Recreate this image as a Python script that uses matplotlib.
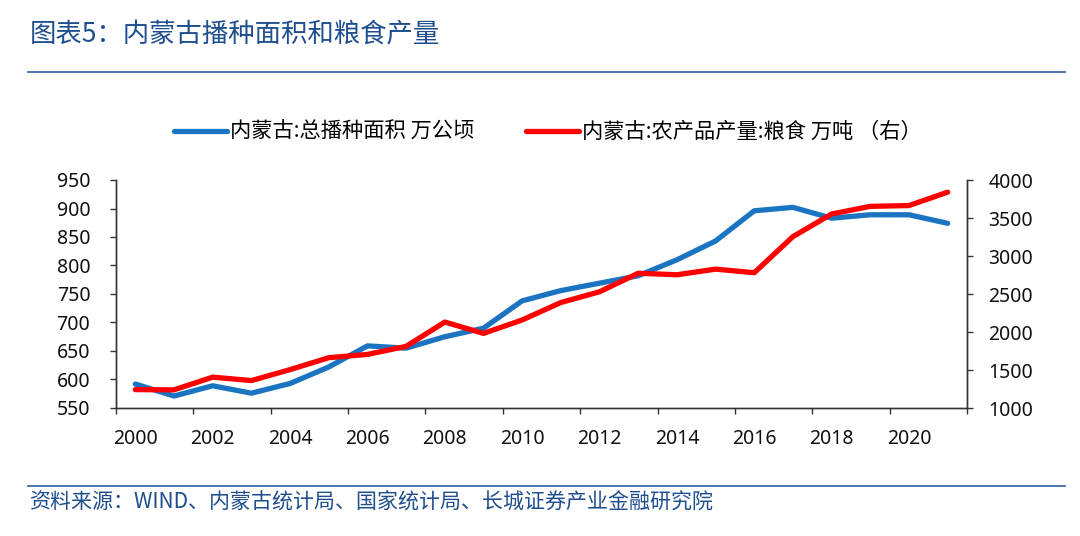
import matplotlib
matplotlib.use("Agg")
import matplotlib.pyplot as plt
from matplotlib.lines import Line2D
import numpy as np

years = list(range(2000, 2022))
area = [592, 571, 589, 576, 593, 622, 659, 655, 675, 690, 738,
        756, 769, 782, 810, 843, 896, 902, 883, 889, 889, 874]
grain = [1242, 1239, 1406, 1361, 1505, 1662, 1705, 1811, 2131, 1982, 2158,
         2388, 2529, 2773, 2753, 2827, 2780, 3255, 3553, 3653, 3664, 3840]
left_ticks = [550, 600, 650, 700, 750, 800, 850, 900, 950]
right_ticks = [1000, 1500, 2000, 2500, 3000, 3500, 4000]
label_years = [str(y) for y in years[::2]]

title = "图表5：内蒙古播种面积和粮食产量"
source = "资料来源：WIND、内蒙古统计局、国家统计局、长城证券产业金融研究院"
name_area = "内蒙古:总播种面积 万公顷"
name_grain = "内蒙古:农产品产量:粮食 万吨 （右）"

cjk = ["Noto Sans CJK SC", "DejaVu Sans"]
num_font = ["Noto Sans", "DejaVu Sans"]

W, H = 1080, 536
fig = plt.figure(figsize=(W / 100, H / 100), dpi=100)
ax = fig.add_axes([116 / W, 1 - 408 / H, (967 - 116) / W, (408 - 180) / H])
ax2 = ax.twinx()

x = np.arange(len(years))
blue = "#1B74C1"
red = "#FF0000"
l1, = ax.plot(x, area, color=blue, lw=3.8, solid_capstyle="round", zorder=3)
l2, = ax2.plot(x, grain, color=red, lw=3.8, solid_capstyle="round", zorder=4)

ax.set_xlim(-0.5, len(years) - 0.5)
ax.set_ylim(550, 950)
ax2.set_ylim(1000, 4000)
ax.set_yticks(left_ticks)
ax2.set_yticks(right_ticks)

ax.set_xticks(np.arange(-0.5, len(years), 2))
ax.set_xticklabels([])
ax.set_xticks(x[::2], minor=True)
ax.set_xticklabels(label_years, minor=True)
ax.tick_params(axis="x", which="minor", length=0, pad=15)
ax.tick_params(axis="x", which="major", length=4.5, width=1, color="#333333")
ax.tick_params(axis="y", length=4.5, width=1, color="#333333", pad=14)
ax2.tick_params(axis="y", length=4.5, width=1, color="#333333", pad=11)

for lab in ax.get_xticklabels(minor=True) + ax.get_yticklabels() + ax2.get_yticklabels():
    lab.set_fontfamily(num_font)
    lab.set_fontsize(14)
    lab.set_color("#111111")

for a in (ax, ax2):
    a.spines["top"].set_visible(False)
    for s in ("left", "right", "bottom"):
        a.spines[s].set_color("#333333")
        a.spines[s].set_linewidth(1)

leg = fig.legend([l1, l2], [name_area, name_grain], ncol=2, frameon=False,
                 loc="center", bbox_to_anchor=(548 / W, 1 - 132 / H),
                 prop={"family": cjk, "size": 15.3}, handlelength=2.5,
                 handletextpad=0.15, columnspacing=2.4)

fig.text(30 / W, 1 - 35 / H, title, fontfamily=cjk, fontsize=19,
         color="#1F4E8F", va="center", ha="left")
fig.add_artist(Line2D([28 / W, 1065 / W], [1 - 72 / H, 1 - 72 / H],
                      color="#3C6BAA", lw=1.3, transform=fig.transFigure))
fig.add_artist(Line2D([28 / W, 1065 / W], [1 - 486 / H, 1 - 486 / H],
                      color="#3C6BAA", lw=1.3, transform=fig.transFigure))
fig.text(30 / W, 1 - 502 / H, source, fontfamily=cjk, fontsize=15.1,
         color="#1F4E8F", va="center", ha="left")

fig.savefig("out.png", dpi=100)
